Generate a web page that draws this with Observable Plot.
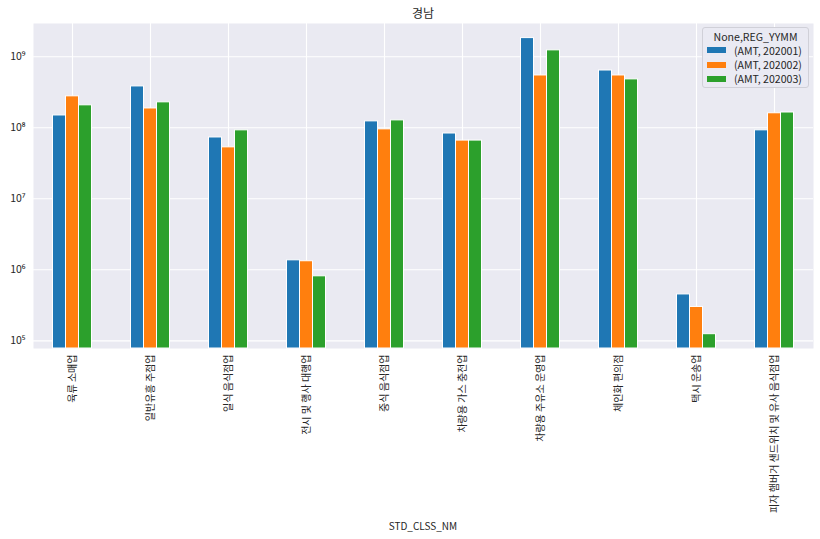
<!DOCTYPE html>
<html><head><meta charset="utf-8">
<script src="https://cdn.jsdelivr.net/npm/d3@7"></script>
<script src="https://cdn.jsdelivr.net/npm/@observablehq/plot@0.6"></script>
<style>
body{margin:0;background:#fff;font-family:"Noto Sans CJK KR","Noto Sans",sans-serif;color:#262626;}
#wrap{position:relative;width:820px;height:539px;overflow:hidden;}
#chart{position:absolute;left:0;top:0;}
#title{position:absolute;left:33px;width:780px;top:4px;text-align:center;font-size:12px;line-height:18px;}
#xlabel{position:absolute;left:33px;width:780px;top:518px;text-align:center;font-size:10px;line-height:16px;}
#legend{position:absolute;left:702px;top:27px;width:105px;height:59px;background:rgba(234,234,242,0.95);border:1px solid #d0d0d8;border-radius:3px;font-size:10.6px;}
#legend .t{text-align:center;margin-top:2px;line-height:13px;}
#legend .row{display:flex;align-items:center;height:14.4px;}
#legend .sw{width:19px;height:6px;margin-left:4px;margin-right:8px;}
</style></head>
<body><div id="wrap"><div id="chart"></div><div id="title">경남</div><div id="xlabel">STD_CLSS_NM</div><div id="legend"></div></div>
<script>
const categories = ["육류 소매업","일반유흥 주점업","일식 음식점업","전시 및 행사 대행업","중식 음식점업","차량용 가스 충전업","차량용 주유소 운영업","체인화 편의점","택시 운송업","피자 햄버거 샌드위치 및 유사 음식점업"];
const seriesNames = ["(AMT, 202001)","(AMT, 202002)","(AMT, 202003)"];
const amt202001 = [1.49e8, 3.82e8, 7.3e7, 1.36e6, 1.23e8, 8.3e7, 1.83e9, 6.4e8, 4.5e5, 9.2e7];
const amt202002 = [2.77e8, 1.87e8, 5.3e7, 1.32e6, 9.5e7, 6.6e7, 5.45e8, 5.45e8, 3.0e5, 1.6e8];
const amt202003 = [2.07e8, 2.28e8, 9.2e7, 8.1e5, 1.27e8, 6.6e7, 1.23e9, 4.8e8, 1.24e5, 1.64e8];
const legendTitle = "None,REG_YYMM";
const yTicks = [1e5, 1e6, 1e7, 1e8, 1e9];
const yTickLabels = ["10⁵","10⁶","10⁷","10⁸","10⁹"];
const colors = ["#1f77b4","#ff7f0e","#2ca02c"];
const yDomain = [Math.pow(10, 4.892), Math.pow(10, 9.468)];

const seriesValues = [amt202001, amt202002, amt202003];
const data = [];
categories.forEach((c, i) => seriesValues.forEach((arr, s) => data.push({cat: c, i, s, series: seriesNames[s], value: arr[i]})));
const groupWidth = 0.5, barW = groupWidth / seriesNames.length;

const plot = Plot.plot({
  width: 820, height: 539,
  marginTop: 23, marginLeft: 33, marginRight: 7, marginBottom: 191,
  style: {background: "transparent", fontFamily: '"Noto Sans CJK KR","Noto Sans",sans-serif', fontSize: "10px", color: "#262626"},
  x: {type: "linear", domain: [-0.5, categories.length - 0.5]},
  y: {type: "log", domain: yDomain},
  color: {domain: seriesNames, range: colors},
  marks: [
    Plot.frame({fill: "#eaeaf2", stroke: null}),
    Plot.gridX(d3.range(categories.length), {stroke: "white", strokeOpacity: 1, strokeWidth: 1.1}),
    Plot.gridY(yTicks, {stroke: "white", strokeOpacity: 1, strokeWidth: 1.1}),
    Plot.rectY(data, {
      x1: d => d.i - groupWidth / 2 + d.s * barW,
      x2: d => d.i - groupWidth / 2 + (d.s + 1) * barW,
      y1: yDomain[0], y2: "value", fill: "series", stroke: "white", strokeWidth: 1
    }),
    Plot.axisX(d3.range(categories.length), {tickFormat: i => categories[i], tickRotate: -90, tickSize: 0, tickPadding: 6, label: null}),
    Plot.axisY(yTicks, {tickFormat: (d, k) => yTickLabels[yTicks.indexOf(d)], tickSize: 0, tickPadding: 8, label: null, fontSize: 10.5})
  ]
});
document.getElementById("chart").appendChild(plot);

const lg = document.getElementById("legend");
const t = document.createElement("div"); t.className = "t"; t.textContent = legendTitle; lg.appendChild(t);
seriesNames.forEach((n, k) => {
  const r = document.createElement("div"); r.className = "row";
  const sw = document.createElement("span"); sw.className = "sw"; sw.style.background = colors[k];
  const tx = document.createElement("span"); tx.textContent = n;
  r.appendChild(sw); r.appendChild(tx); lg.appendChild(r);
});
</script>
</body></html>
